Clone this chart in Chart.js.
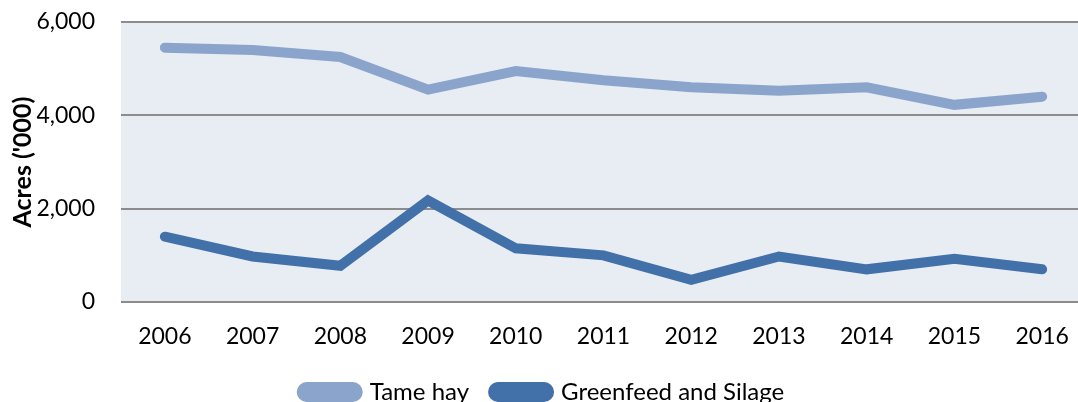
<!DOCTYPE html>
<html>
<head>
<meta charset="utf-8">
<script src="https://cdn.jsdelivr.net/npm/chart.js@4"></script>
<style>
    html, body { margin: 0; padding: 0; background: #fff; overflow: hidden; }
    .wrap { width: 1086px; height: 414px; }
</style>
</head>
<body>
<div class="wrap"><canvas id="acresChart"></canvas></div>
<script>
// Data
const years = ['2006', '2007', '2008', '2009', '2010', '2011', '2012', '2013', '2014', '2015', '2016'];
const tameHay = [5450, 5400, 5250, 4550, 4950, 4750, 4600, 4525, 4600, 4225, 4400];
const greenfeedSilage = [1400, 975, 775, 2175, 1150, 1000, 475, 975, 700, 925, 700];
const yTicks = [0, 2000, 4000, 6000];

const FONT = 'Lato, "Open Sans", sans-serif';

// Fill plot area background
const plotBackground = {
    id: 'plotBackground',
    beforeDraw(chart) {
        const { ctx, chartArea } = chart;
        ctx.save();
        ctx.fillStyle = '#e8ecf3';
        ctx.fillRect(chartArea.left, chartArea.top, chartArea.right - chartArea.left, chartArea.bottom - chartArea.top);
        ctx.restore();
    }
};

const ctx = document.getElementById('acresChart').getContext('2d');
new Chart(ctx, {
    type: 'line',
    data: {
        labels: years,
        datasets: [{
            label: 'Tame hay',
            data: tameHay,
            borderColor: '#8ba4cb',
            backgroundColor: '#8ba4cb',
            borderWidth: 10,
            borderCapStyle: 'round',
            pointRadius: 0,
            tension: 0
        }, {
            label: 'Greenfeed and Silage',
            data: greenfeedSilage,
            borderColor: '#4270a8',
            backgroundColor: '#4270a8',
            borderWidth: 10,
            borderCapStyle: 'round',
            pointRadius: 0,
            tension: 0
        }]
    },
    options: {
        responsive: true,
        maintainAspectRatio: false,
        animation: false,
        layout: { padding: { top: 22, left: 0, right: 0, bottom: 0 } },
        scales: {
            x: {
                offset: true,
                grid: { display: false },
                border: { display: false },
                ticks: {
                    color: '#000',
                    font: { family: FONT, size: 23 },
                    padding: 13,
                    maxRotation: 0
                },
                afterFit: (scale) => { scale.height = 54; }
            },
            y: {
                min: 0,
                max: 6000,
                afterBuildTicks: (scale) => { scale.ticks = yTicks.map(v => ({ value: v })); },
                grid: { color: '#8c8c8c', lineWidth: 2, drawTicks: true, tickLength: 18, tickColor: 'rgba(0,0,0,0)' },
                border: { display: false },
                ticks: {
                    color: '#000',
                    font: { family: FONT, size: 23 },
                    padding: 8,
                    callback: (v) => v.toLocaleString('en-US')
                },
                title: {
                    display: true,
                    text: "Acres ('000)",
                    color: '#000',
                    font: { family: FONT, size: 25, weight: 'bold' },
                    padding: { top: 8, bottom: 0 }
                },
                afterFit: (scale) => { scale.width = 121; }
            }
        },
        plugins: {
            legend: {
                position: 'bottom',
                labels: {
                    color: '#000',
                    font: { family: FONT, size: 24 },
                    boxWidth: 56,
                    boxHeight: 10,
                    useBorderRadius: true,
                    borderRadius: 5,
                    padding: 24
                }
            },
            tooltip: { enabled: false }
        }
    },
    plugins: [plotBackground]
});
</script>
</body>
</html>
